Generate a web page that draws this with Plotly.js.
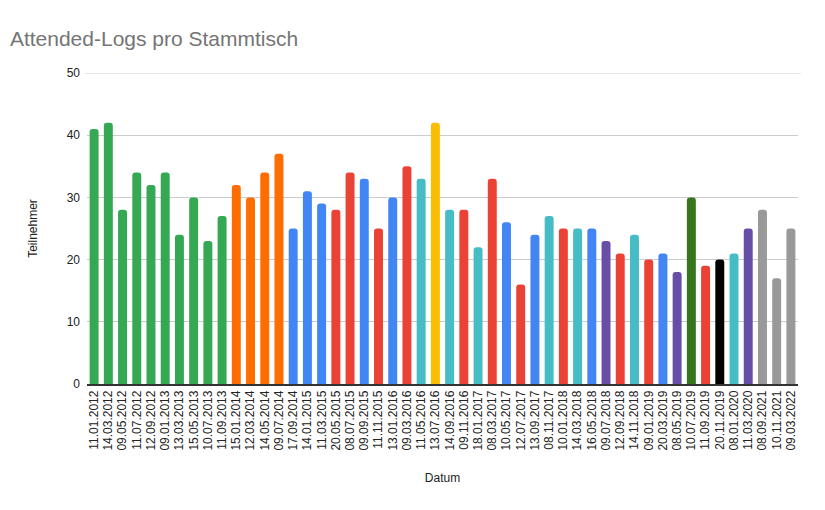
<!DOCTYPE html>
<html>
<head>
<meta charset="utf-8">
<script src="https://cdn.plot.ly/plotly-3.0.1.min.js"></script>
<style>html,body{margin:0;padding:0;background:#fff;}#chart{width:825px;height:510px;}</style>
</head>
<body>
<div id="chart"></div>
<script>
const dates = ["11.01.2012","14.03.2012","09.05.2012","11.07.2012","12.09.2012","09.01.2013","13.03.2013","15.05.2013","10.07.2013","11.09.2013",
"15.01.2014","12.03.2014","14.05.2014","09.07.2014","17.09.2014","14.01.2015","11.03.2015","20.05.2015","08.07.2015","09.09.2015",
"11.11.2015","13.01.2016","09.03.2016","11.05.2016","13.07.2016","14.09.2016","09.11.2016","18.01.2017","08.03.2017","10.05.2017",
"12.07.2017","13.09.2017","08.11.2017","10.01.2018","14.03.2018","16.05.2018","09.07.2018","12.09.2018","14.11.2018","09.01.2019",
"20.03.2019","08.05.2019","10.07.2019","11.09.2019","20.11.2019","08.01.2020","11.03.2020","08.09.2021","10.11.2021","09.03.2022"];
const teilnehmer = [41,42,28,34,32,34,24,30,23,27,
32,30,34,37,25,31,29,28,34,33,
25,30,35,33,42,28,28,22,33,26,
16,24,27,25,25,25,23,21,24,20,
21,18,30,19,20,21,25,28,17,25];
const colorKeys = ["g","g","g","g","g","g","g","g","g","g",
"o","o","o","o","b","b","b","r","r","b",
"r","b","r","t","y","t","r","t","r","b",
"r","b","t","r","t","b","p","r","t","r",
"b","p","dg","r","k","t","p","gr","gr","gr"];
const palette = {g:"#34a853",o:"#ff6d01",b:"#4285f4",r:"#ea4335",t:"#46bdc6",y:"#fbbc04",p:"#674ea7",dg:"#38761d",k:"#000000",gr:"#999999"};
const colors = colorKeys.map(k => palette[k]);
const yMax = 50;

Plotly.newPlot("chart", [{
  type: "bar",
  x: dates,
  y: teilnehmer,
  marker: {color: colors, cornerradius: 3},
  hoverinfo: "x+y"
}], {
  width: 825, height: 510,
  margin: {l: 87, r: 27, t: 73, b: 126},
  paper_bgcolor: "#fff", plot_bgcolor: "#fff",
  bargap: 0.37,
  font: {family: "Liberation Sans, Arial, sans-serif", size: 12, color: "#222"},
  title: {text: "Attended-Logs pro Stammtisch", x: 0.012, xanchor: "left", y: 0.925, yanchor: "middle",
          font: {family: "Liberation Sans, Arial, sans-serif", size: 21, color: "#757575"}},
  xaxis: {
    type: "category", tickangle: -90, tickfont: {size: 12, color: "#222"},
    title: {text: "Datum", font: {size: 12, color: "#222"}, standoff: 24},
    showgrid: false, showline: true, linecolor: "#333", linewidth: 1.5, ticks: "", automargin: false
  },
  yaxis: {
    range: [0, yMax], tickvals: [0, 10, 20, 30, 40, 50], tickfont: {size: 12, color: "#222"},
    title: {text: "Teilnehmer", font: {size: 12, color: "#222"}, standoff: 26},
    gridcolor: "#cccccc", zeroline: false, showline: false, ticks: "", ticklabelstandoff: 6, automargin: false
  },
  shapes: [{type: "line", xref: "paper", yref: "y", x0: -0.003, x1: 1.004, y0: yMax, y1: yMax,
            line: {color: "#cccccc", width: 1}, layer: "below"}],
  showlegend: false
}, {displayModeBar: false});
</script>
</body>
</html>
